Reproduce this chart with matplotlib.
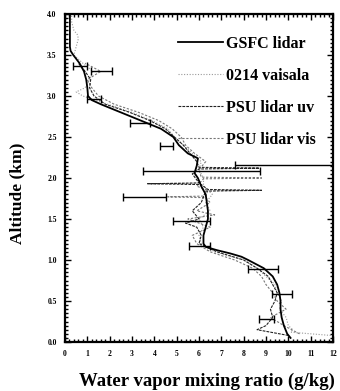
#!/usr/bin/env python3
"""
Water vapor mixing ratio profiles: GSFC lidar vs 0214 vaisala vs PSU lidar uv/vis.
Canvas 340x391, output out.png.
"""
import matplotlib
matplotlib.use("Agg")
import matplotlib.pyplot as plt
from matplotlib.ticker import MultipleLocator
import numpy as np

plt.rcParams["font.family"] = ["Liberation Serif", "DejaVu Serif"]
plt.rcParams["font.weight"] = "bold"

W_PX, H_PX, DPI = 340, 391, 100

# GSFC lidar (solid)
GSFC_ALT = [0.05, 0.1, 0.2, 0.3, 0.4, 0.5, 0.6, 0.7, 0.8, 0.9,
            1.0, 1.04, 1.08, 1.12, 1.16, 1.2, 1.3, 1.4, 1.5, 1.6,
            1.7, 1.8, 1.9, 2.0, 2.06, 2.15, 2.24, 2.3, 2.4, 2.5,
            2.6, 2.7, 2.8, 2.9, 2.95, 3.0, 3.1, 3.2, 3.3, 3.4,
            3.5, 3.55, 3.6, 3.7, 3.8, 3.9, 4.0]
GSFC_X = [10.1, 9.95, 9.8, 9.7, 9.65, 9.65, 9.6, 9.5, 9.3, 8.9,
          8.2, 7.9, 7.4, 6.8, 6.3, 6.2, 6.2, 6.3, 6.4, 6.4,
          6.35, 6.3, 6.1, 5.95, 5.8, 5.9, 5.95, 5.5, 5.1, 4.85,
          4.3, 3.4, 2.5, 1.6, 1.2, 1.03, 1.0, 0.95, 0.85, 0.65,
          0.37, 0.25, 0.22, 0.22, 0.22, 0.22, 0.22]

# 0214 vaisala (dotted, light)
VAIS_ALT = [0.08, 0.12, 0.15, 0.2, 0.3, 0.4, 0.5, 0.6, 0.7, 0.8,
            0.9, 1.0, 1.1, 1.2, 1.3, 1.4, 1.5, 1.6, 1.7, 1.8,
            1.9, 2.0, 2.1, 2.2, 2.3, 2.4, 2.5, 2.6, 2.7, 2.8,
            2.9, 3.0, 3.05, 3.1, 3.2, 3.3, 3.4, 3.5, 3.6, 3.7,
            3.75, 3.8, 3.9, 4.0]
VAIS_X = [11.9, 10.1, 10.2, 10.0, 9.9, 9.6, 9.7, 9.5, 9.4, 9.0,
          8.6, 8.0, 6.7, 6.1, 6.0, 6.2, 6.0, 6.5, 6.3, 6.6,
          6.2, 6.2, 6.0, 6.1, 5.7, 5.3, 4.9, 4.6, 3.9, 3.0,
          1.9, 0.8, 0.5, 0.9, 1.1, 1.25, 0.8, 0.4, 0.5, 0.6,
          0.55, 0.4, 0.3, 0.3]

# PSU lidar uv (dashed)
UV_ALT = [0.08, 0.15, 0.2, 0.3, 0.4, 0.5, 0.6, 0.7, 0.8, 0.9,
          1.0, 1.1, 1.2, 1.3, 1.4, 1.45, 1.5, 1.6, 1.7, 1.84,
          1.85, 1.86, 1.92, 1.93, 1.94, 2.05, 2.11, 2.12, 2.13, 2.2,
          2.3, 2.4, 2.5, 2.6, 2.7, 2.8, 2.9, 3.0, 3.1, 3.2,
          3.3, 3.4]
UV_X = [10.0, 8.6, 9.0, 9.3, 9.2, 9.4, 9.5, 9.3, 9.1, 8.6,
        8.0, 6.8, 6.0, 6.1, 5.9, 5.4, 6.0, 5.7, 6.1, 6.3,
        8.8, 6.4, 6.1, 3.7, 6.0, 5.7, 6.0, 8.7, 6.0, 5.9,
        5.6, 5.3, 4.9, 4.5, 3.8, 2.9, 1.8, 1.3, 1.1, 1.15,
        0.9, 0.6]

# PSU lidar vis (light dashes)
VIS_ALT = [0.1, 0.2, 0.3, 0.4, 0.5, 0.6, 0.7, 0.8, 0.9, 1.0,
           1.1, 1.2, 1.3, 1.4, 1.5, 1.55, 1.6, 1.7, 1.76, 1.77,
           1.78, 1.85, 1.9, 1.99, 2.0, 2.01, 2.1, 2.2, 2.3, 2.4,
           2.5, 2.6, 2.7, 2.8, 2.9, 3.0, 3.1, 3.2, 3.3, 3.4]
VIS_X = [10.5, 9.8, 9.2, 9.9, 9.5, 9.3, 9.0, 8.8, 8.4, 7.6,
         6.5, 5.9, 5.7, 6.5, 5.5, 6.7, 5.9, 6.5, 6.3, 4.6,
         6.3, 6.4, 5.9, 6.2, 8.8, 6.1, 6.0, 6.3, 5.8, 5.4,
         5.2, 4.8, 4.2, 3.3, 2.2, 1.5, 1.2, 1.0, 1.6, 0.9]

# horizontal error bars
ERR_ALT = [3.36, 3.30, 2.96, 2.67, 2.39, 2.16, 2.08, 1.77, 1.47, 1.17, 0.89, 0.585, 0.28]
ERR_X = [0.7, 1.6, 1.3, 3.5, 4.6, 9.8, 6.1, 3.6, 5.6, 6.0, 8.9, 9.7, 9.0]
ERR_LO = [0.37, 1.17, 0.99, 2.9, 4.25, 7.6, 3.5, 2.6, 4.85, 5.57, 8.2, 9.27, 8.67]
ERR_HI = [0.97, 2.12, 1.6, 3.8, 4.85, 12.0, 8.75, 4.5, 6.5, 6.5, 9.55, 10.16, 9.35]


fig = plt.figure(figsize=(W_PX / DPI, H_PX / DPI), dpi=DPI)
ax = fig.add_axes([65 / W_PX, 1 - 342 / H_PX, (333 - 65) / W_PX, (342 - 14) / H_PX])

ax.plot(VAIS_X, VAIS_ALT, color="#9a9a9a", lw=0.8, ls=(0, (1, 1.5)), label="0214 vaisala")
ax.plot(VIS_X, VIS_ALT, color="#777777", lw=0.8, ls=(0, (2, 1.5)), label="PSU lidar vis")
ax.plot(UV_X, UV_ALT, color="#222222", lw=0.8, ls=(0, (2.5, 1)), label="PSU lidar uv")
ax.plot(GSFC_X, GSFC_ALT, color="black", lw=1.3, label="GSFC lidar")

ex = np.array(ERR_X)
xerr = [ex - np.array(ERR_LO), np.array(ERR_HI) - ex]
ax.errorbar(ERR_X, ERR_ALT, xerr=xerr, fmt="none", ecolor="black",
            elinewidth=1.0, capsize=3, capthick=1.0)

ax.set_xlim(0, 12)
ax.set_ylim(0, 4)
ax.xaxis.set_major_locator(MultipleLocator(1))
ax.xaxis.set_minor_locator(MultipleLocator(0.2))
ax.yaxis.set_major_locator(MultipleLocator(0.5))
ax.yaxis.set_minor_locator(MultipleLocator(0.05))
ax.set_yticks(np.arange(0, 4.01, 0.5))
ax.set_yticklabels([f"{v:.1f}" for v in np.arange(0, 4.01, 0.5)])
ax.tick_params(which="both", direction="in", top=True, right=True, width=1.0)
ax.tick_params(which="major", length=4, labelsize=5.5, pad=6)
ax.tick_params(which="minor", length=2)
for s in ax.spines.values():
    s.set_linewidth(1.6)

ax.set_xlabel("Water vapor mixing ratio (g/kg)", fontsize=13.5, fontweight="bold")
ax.set_ylabel("Altitude (km)", fontsize=12.5, fontweight="bold")
ax.xaxis.set_label_coords(0.53, -0.094)
ax.yaxis.set_label_coords(-0.146, 0.454)

h, l = ax.get_legend_handles_labels()
order = [3, 0, 2, 1]
leg = ax.legend([h[i] for i in order], [l[i] for i in order],
                loc="upper left", bbox_to_anchor=(170 / W_PX, 1 - 28 / H_PX),
                bbox_transform=fig.transFigure, frameon=False, borderpad=0,
                handlelength=2.8, handletextpad=0.2, labelspacing=1.0,
                prop={"family": "Liberation Serif", "weight": "bold", "size": 11.5})

fig.savefig("out.png", dpi=DPI)
